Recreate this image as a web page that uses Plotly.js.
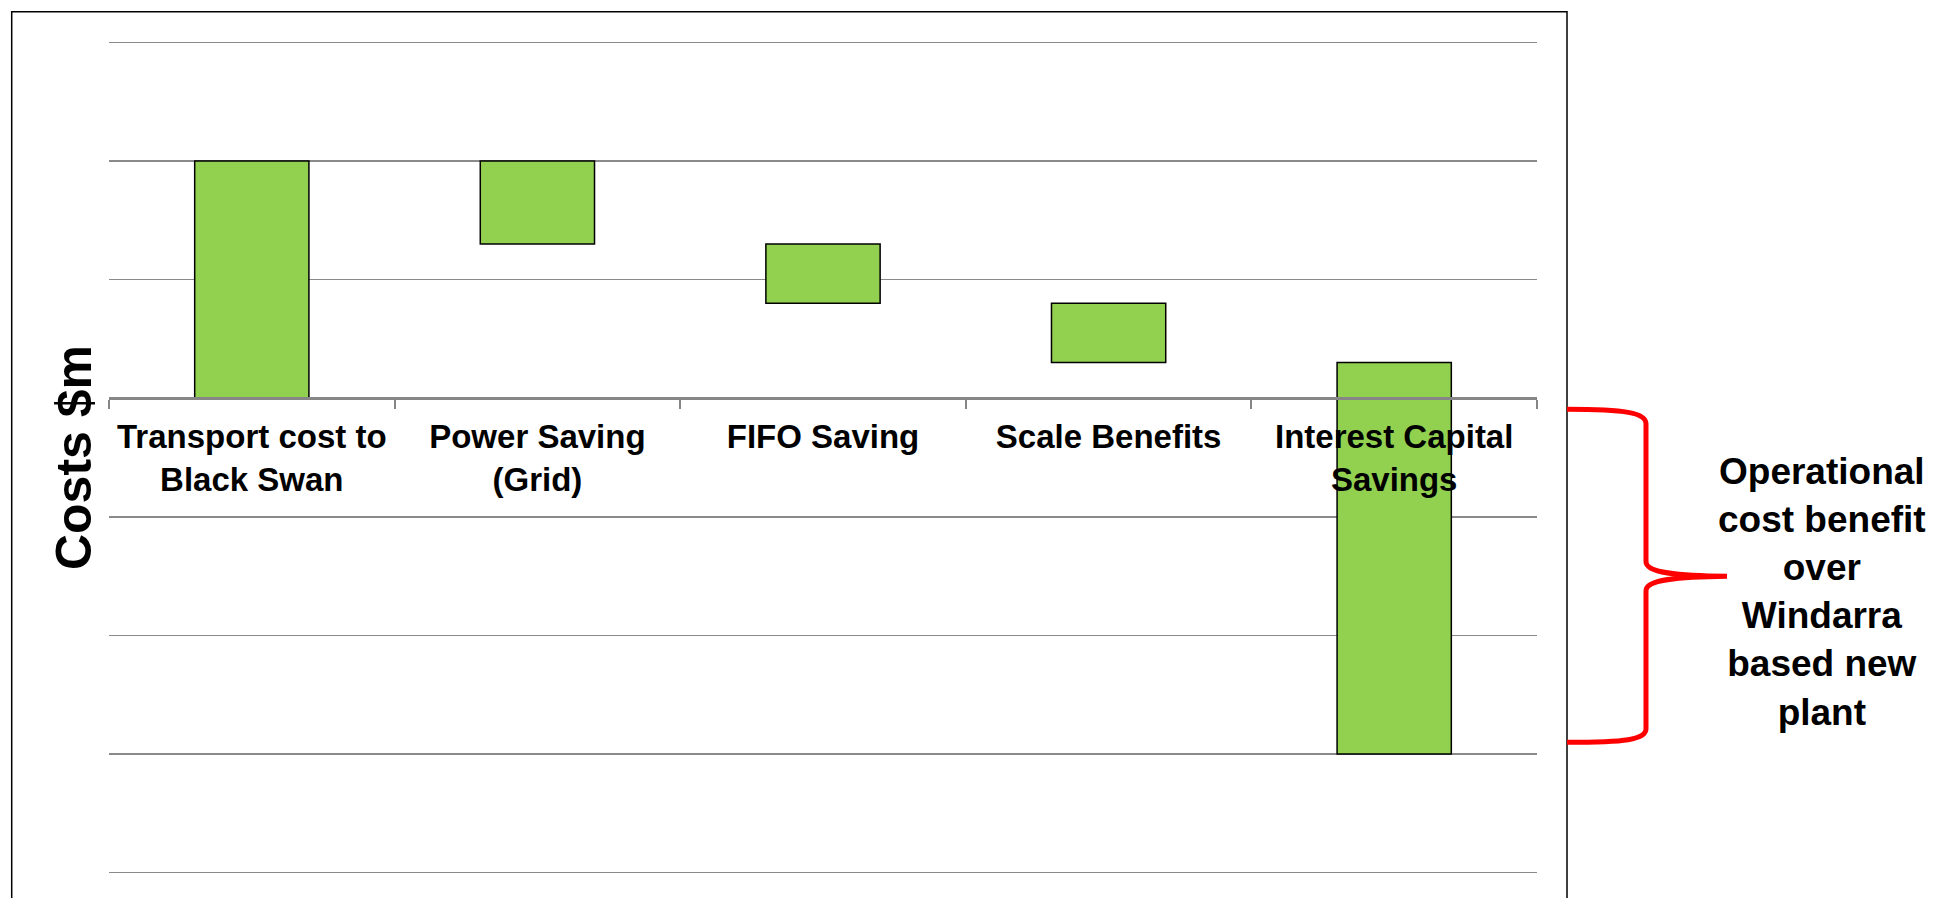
<!DOCTYPE html>
<html>
<head>
<meta charset="utf-8">
<script src="https://cdn.plot.ly/plotly-3.0.1.min.js"></script>
<style>
  html, body { margin: 0; padding: 0; background: #ffffff; }
  #chart { width: 1935px; height: 898px; }
</style>
</head>
<body>
<div id="chart"></div>
<script>
// ---- data ----
const categories = [
  "Transport cost to<br>Black Swan",
  "Power Saving<br>(Grid)",
  "FIFO Saving",
  "Scale Benefits",
  "Interest Capital<br>Savings"
];
const changes = [20, -7, -5, -5, -33];          // $m, step changes of the waterfall
const measures = ["relative", "relative", "relative", "relative", "relative"];
const yTitle = "Costs $m";
const sideNote = "Operational<br>cost benefit<br>over<br>Windarra<br>based new<br>plant";

// ---- layout geometry (pixels) ----
const W = 1935, H = 898;
const L = 109, R = 1935 - 1537, T = 40.3, B = 22.8;
const plotW = W - L - R, plotH = H - T - B;
const yRange = [-40.2, 30.2];
const px = x => (x - L) / plotW;
const py = y => (T + plotH - y) / plotH;

const GREEN = "#92D050";
const GRID = "#8a8a8a";
const FONT = "Liberation Sans, Arial, Helvetica, sans-serif";

const trace = {
  type: "waterfall",
  x: categories,
  y: changes,
  measure: measures,
  base: 0,
  textinfo: "none",
  connector: { visible: false },
  increasing: { marker: { color: GREEN, line: { color: "#000000", width: 1.5 } } },
  decreasing: { marker: { color: GREEN, line: { color: "#000000", width: 1.5 } } },
  totals: { marker: { color: GREEN, line: { color: "#000000", width: 1.5 } } },
  hoverinfo: "x+y",
  showlegend: false
};

// brace path (pixels) converted to paper coords
function bracePath() {
  const pts = [
    ["M", [1567, 409.5]],
    ["C", [1625, 409.5], [1646, 413], [1646, 424]],
    ["L", [1646, 562]],
    ["C", [1646, 573], [1676, 576], [1727, 576.5]],
    ["C", [1676, 577], [1646, 580], [1646, 591]],
    ["L", [1646, 729]],
    ["C", [1646, 740], [1625, 742.5], [1567, 742.5]]
  ];
  return pts.map(seg => seg[0] + " " + seg.slice(1).map(p => px(p[0]).toFixed(5) + "," + py(p[1]).toFixed(5)).join(" ")).join(" ");
}

const layout = {
  width: W,
  height: H,
  margin: { l: L, r: R, t: T, b: B, pad: 0 },
  paper_bgcolor: "#ffffff",
  plot_bgcolor: "rgba(0,0,0,0)",
  waterfallgap: 0.6,
  showlegend: false,
  font: { family: FONT, color: "#000000" },
  xaxis: {
    type: "category",
    range: [-0.5, 4.5],
    anchor: "free",
    position: (0 - yRange[0]) / (yRange[1] - yRange[0]),
    showline: true,
    linecolor: "#868686",
    linewidth: 2.5,
    ticks: "outside",
    tickson: "boundaries",
    ticklen: 9,
    tickwidth: 2,
    tickcolor: "#868686",
    showgrid: false,
    zeroline: false,
    layer: "above traces",
    tickfont: { family: FONT, size: 33, weight: "bold", color: "#000000" },
    ticklabelstandoff: 9,
    fixedrange: true
  },
  yaxis: {
    range: yRange,
    dtick: 10,
    tick0: 0,
    showticklabels: false,
    ticks: "",
    showgrid: true,
    gridcolor: GRID,
    gridwidth: 1.6,
    zeroline: false,
    showline: false,
    automargin: false,
    title: {
      text: yTitle,
      font: { family: FONT, size: 50, weight: "bold", color: "#000000" },
      standoff: 0
    },
    fixedrange: true
  },
  shapes: [
    {
      type: "rect", xref: "paper", yref: "paper",
      x0: px(11.7), x1: px(1567), y0: py(920), y1: py(12),
      line: { color: "#000000", width: 1.5 },
      fillcolor: "rgba(0,0,0,0)",
      layer: "above"
    },
    {
      type: "path", xref: "paper", yref: "paper",
      path: bracePath(),
      line: { color: "#ff0000", width: 5 },
      fillcolor: "rgba(0,0,0,0)",
      layer: "above"
    }
  ],
  annotations: [
    {
      xref: "paper", yref: "paper",
      x: px(1822), y: py(592),
      xanchor: "center", yanchor: "middle",
      align: "center",
      showarrow: false,
      text: sideNote,
      font: { family: FONT, size: 37, weight: "bold", color: "#000000" }
    }
  ]
};

Plotly.newPlot("chart", [trace], layout, { displayModeBar: false, staticPlot: true });
</script>
</body>
</html>
